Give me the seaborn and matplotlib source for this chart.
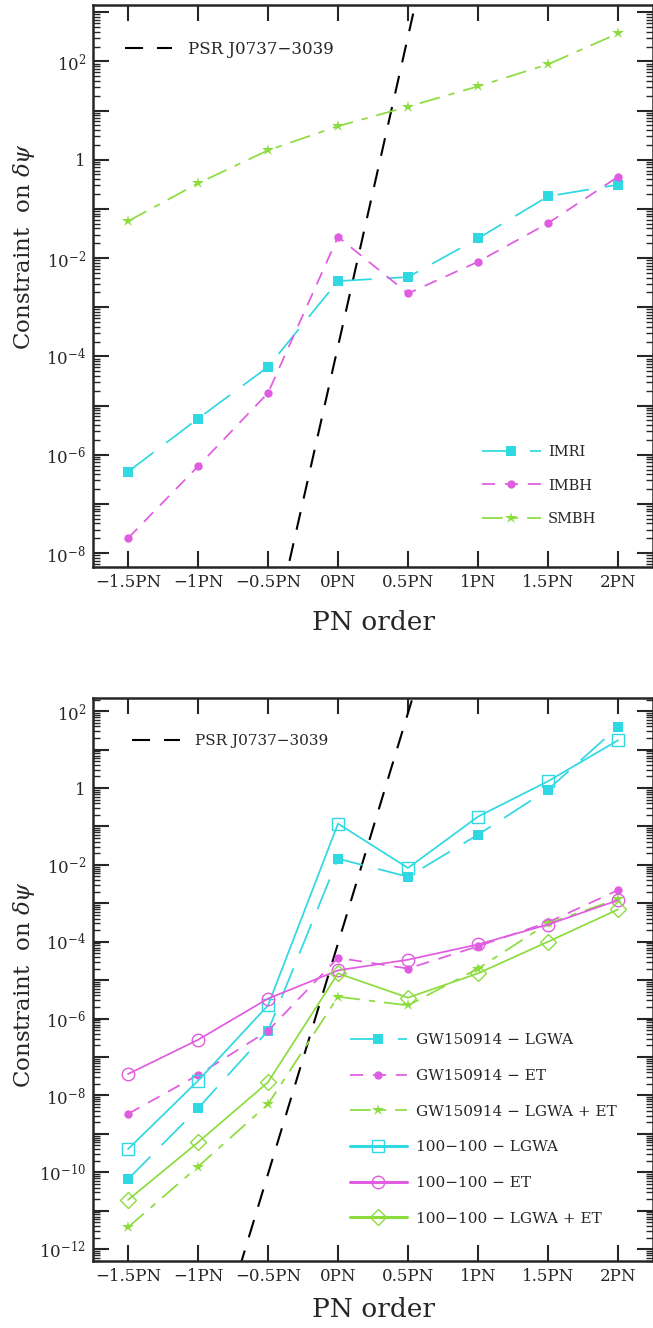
import numpy as np
import pandas as pd
import matplotlib
matplotlib.use("Agg")
import matplotlib.pyplot as plt
import matplotlib.ticker as mticker
from matplotlib.lines import Line2D
import seaborn as sns

# PN orders on the x axis
pn_orders = [-1.5, -1.0, -0.5, 0.0, 0.5, 1.0, 1.5, 2.0]
pn_labels = ["\u22121.5PN", "\u22121PN", "\u22120.5PN", "0PN", "0.5PN", "1PN", "1.5PN", "2PN"]

# top panel: constraints per source class
imri = [4.5e-7, 5.4e-6, 6.1e-5, 3.4e-3, 4.1e-3, 2.5e-2, 0.18, 0.31]
imbh = [2.0e-8, 5.8e-7, 1.8e-5, 2.7e-2, 1.9e-3, 8.4e-3, 5.1e-2, 0.45]
smbh = [5.6e-2, 0.33, 1.55, 4.8, 12.0, 31.0, 87.0, 370.0]

# double pulsar bound
psr_orders = [-1.0, -0.5, 0.0, 0.5, 1.0]
psr_top = [4e-17, 8e-11, 1.6e-4, 3.2e2, 6.3e8]
psr_bottom = [9e-17, 9e-11, 9e-5, 9e1, 9e7]

# bottom panel: detector combinations
gw_lgwa = [6.6e-11, 4.6e-9, 4.8e-7, 1.45e-2, 4.9e-3, 6.1e-2, 0.91, 39.0]
gw_et = [3.3e-9, 3.4e-8, 4.8e-7, 3.8e-5, 2.0e-5, 7.6e-5, 3.2e-4, 2.2e-3]
gw_lgwa_et = [3.7e-12, 1.4e-10, 5.9e-9, 3.7e-6, 2.2e-6, 2.0e-5, 3.0e-4, 1.3e-3]
bh100_lgwa = [4.0e-10, 2.4e-8, 2.2e-6, 0.118, 8.3e-3, 0.18, 1.5, 17.4]
bh100_et = [3.6e-8, 2.8e-7, 3.3e-6, 1.8e-5, 3.4e-5, 8.5e-5, 2.8e-4, 1.2e-3]
bh100_lgwa_et = [1.9e-11, 6.0e-10, 2.2e-8, 1.5e-5, 3.5e-6, 1.5e-5, 1.0e-4, 6.9e-4]

CYAN = "#30d8e2"
MAGENTA = "#e05ce0"
GREEN = "#8cdc3e"

LONG = (0, (23, 11.5))
MEDIUM = (0, (9.5, 7))
DASHDOT = (0, (15, 6.5, 4.5, 6.5))
PSR_DASH = (0, (13, 10))

sns.set_style("ticks")
plt.rcParams["font.family"] = ["DejaVu Serif"]
plt.rcParams["mathtext.fontset"] = "dejavuserif"
plt.rcParams["lines.scale_dashes"] = False
plt.rcParams["axes.linewidth"] = 1.8


def draw(ax, x, y, color, marker, ls, ms, open_marker=False, lw=1.25):
    sns.lineplot(x=x, y=y, ax=ax, color=color, marker=marker, markersize=ms,
                 mec=color, mfc="none" if open_marker else color,
                 mew=1.0 if open_marker else 0.0, linestyle=ls, lw=lw)
    return Line2D([], [], color=color, marker=marker, markersize=ms, mec=color,
                  mfc="none" if open_marker else color,
                  mew=1.0 if open_marker else 0.0, linestyle=ls,
                  lw=lw if not open_marker else 2.2)


def log_label(val, pos):
    e = int(round(np.log10(val)))
    if e % 2:
        return ""
    if e == 0:
        return "1"
    return r"$10^{%d}$" % e


def style_axes(ax, ylim, xpad):
    ax.set_yscale("log")
    ax.set_xlim(-1.75, 2.25)
    ax.set_ylim(*ylim)
    ax.set_xticks(pn_orders)
    ax.set_xticklabels(pn_labels)
    ax.yaxis.set_major_locator(mticker.FixedLocator(10.0 ** np.arange(-14, 5)))
    ax.yaxis.set_major_formatter(mticker.FuncFormatter(log_label))
    ax.yaxis.set_minor_locator(mticker.LogLocator(base=10, subs=np.arange(2, 10), numticks=100))
    ax.yaxis.set_minor_formatter(mticker.NullFormatter())
    ax.tick_params(which="major", direction="in", length=11.5, width=1.5,
                   top=True, right=True, labelsize=12, pad=5)
    ax.tick_params(which="minor", direction="in", length=5, width=1.0, right=True)
    ax.set_xlabel("PN order", fontsize=19, labelpad=xpad)
    ax.set_ylabel(r"Constraint  on $\delta\psi$", fontsize=16.5)
    for s in ax.spines.values():
        s.set_visible(True)
        s.set_linewidth(1.8)


fig = plt.figure(figsize=(6.53, 13.28), dpi=100)
ax1 = fig.add_axes([93 / 653, 1 - 567 / 1328, 560 / 653, 562 / 1328])
ax2 = fig.add_axes([93 / 653, 1 - 1260.7 / 1328, 560 / 653, 562.7 / 1328])

# ---- top panel
h_psr1 = draw(ax1, psr_orders, psr_top, "black", None, PSR_DASH, 0, lw=1.5)
h_imri = draw(ax1, pn_orders, imri, CYAN, "s", LONG, 7)
h_imbh = draw(ax1, pn_orders, imbh, MAGENTA, "o", MEDIUM, 6)
h_smbh = draw(ax1, pn_orders, smbh, GREEN, "*", DASHDOT, 9)
style_axes(ax1, (5.2e-9, 1.4e3), 14)
ax1.yaxis.set_label_coords(-0.1, 0.57)

leg = ax1.legend([h_imri, h_imbh, h_smbh], ["IMRI", "IMBH", "SMBH"],
                 loc="upper left", bbox_to_anchor=(0.695, 0.217), frameon=False,
                 fontsize=10.5, handlelength=4.0, handletextpad=0.5,
                 labelspacing=1.34, borderpad=0, borderaxespad=0)
ax1.add_artist(leg)
ax1.legend([h_psr1], ["PSR J0737\u22123039"], loc="upper left",
           bbox_to_anchor=(0.057, 0.936), frameon=False, fontsize=12,
           handlelength=2.8, handletextpad=1.0, borderpad=0, borderaxespad=0)

# ---- bottom panel
h_psr2 = draw(ax2, psr_orders, psr_bottom, "black", None, PSR_DASH, 0, lw=1.5)
h1 = draw(ax2, pn_orders, gw_lgwa, CYAN, "s", LONG, 7)
h2 = draw(ax2, pn_orders, gw_et, MAGENTA, "o", MEDIUM, 6)
h3 = draw(ax2, pn_orders, gw_lgwa_et, GREEN, "*", DASHDOT, 9)
h4 = draw(ax2, pn_orders, bh100_lgwa, CYAN, "s", "-", 9, open_marker=True)
h5 = draw(ax2, pn_orders, bh100_et, MAGENTA, "o", "-", 9, open_marker=True)
h6 = draw(ax2, pn_orders, bh100_lgwa_et, GREEN, "D", "-", 8, open_marker=True)
style_axes(ax2, (5e-13, 2.2e2), 9)
ax2.yaxis.set_label_coords(-0.1, 0.49)

labels2 = ["GW150914 \u2212 LGWA", "GW150914 \u2212 ET", "GW150914 \u2212 LGWA + ET",
           "100\u2212100 \u2212 LGWA", "100\u2212100 \u2212 ET", "100\u2212100 \u2212 LGWA + ET"]
leg2 = ax2.legend([h1, h2, h3, h4, h5, h6], labels2, loc="upper left",
                  bbox_to_anchor=(0.459, 0.404), frameon=False, fontsize=11,
                  handlelength=3.7, handletextpad=0.6, labelspacing=1.42,
                  borderpad=0, borderaxespad=0)
ax2.add_artist(leg2)
ax2.legend([h_psr2], ["PSR J0737\u22123039"], loc="upper left",
           bbox_to_anchor=(0.07, 0.936), frameon=False, fontsize=11,
           handlelength=3.1, handletextpad=1.0, borderpad=0, borderaxespad=0)

fig.savefig("out.png", dpi=100)
